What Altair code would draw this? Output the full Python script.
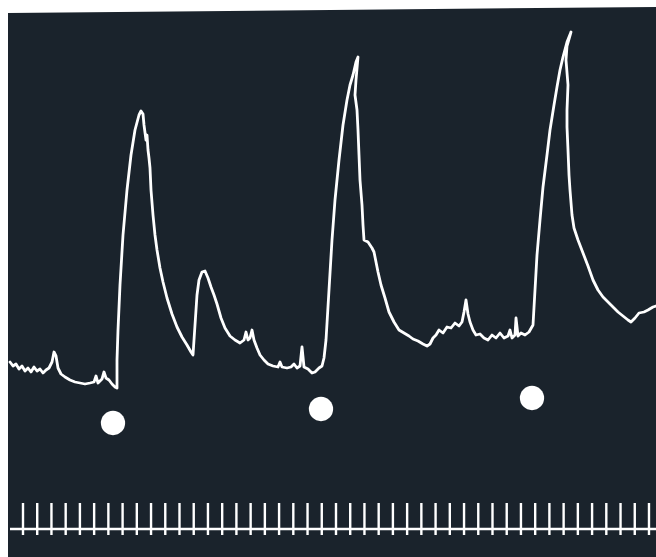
import altair as alt
import pandas as pd

# Recorded trace (time position, screen level; larger level = lower on screen)
trace_t = [10,13,16,19,22,25,28,31,34,37,40,43,46,49,52,54,56,58,61,65,70,75,80,85,90,94,96,98,102,104,106,109,112,115,117,
           117,118,120,123,127,131,135,139,141,143,
           144,146,147,148,149,150,151,153,155,157,160,163,167,172,177,182,187,191,193,
           195,197,199,202,205,208,211,214,217,221,225,230,235,240,244,246,248,250,252,254,257,260,264,268,273,278,280,282,287,291,294,297,300,302,304,308,312,315,319,322,324,
           326,329,332,335,339,343,347,350,353,356,358,
           356,355,357,358,359,360,362,363,364,368,372,374,376,378,381,385,389,394,399,404,409,413,418,423,427,430,433,436,439,443,447,451,455,459,462,464,466,468,470,473,476,480,484,488,492,496,500,504,508,510,512,515,516,518,521,525,529,533,
           535,537,540,543,547,550,554,557,560,563,567,571,
           567,566,568,567,567,568,569,570,572,574,578,583,588,593,598,603,608,613,618,623,628,631,635,639,644,648,653,656]
trace_v = [362,366,364,369,366,371,368,372,367,371,369,373,370,368,362,352,356,368,374,377,380,382,383,384,383,382,376,383,379,372,378,380,384,387,388,
           360,330,285,235,190,155,130,115,111,114,
           125,140,135,150,158,168,190,215,235,250,268,282,298,314,327,337,345,352,355,
           325,295,280,272,271,278,287,295,304,318,328,336,340,343,340,332,340,338,330,340,348,355,360,364,366,367,362,367,368,367,364,368,366,347,367,369,373,372,368,366,358,
           340,290,240,200,160,125,100,85,75,62,57,
           80,95,110,130,155,180,205,225,240,242,248,252,262,272,285,298,312,322,330,333,336,339,341,344,346,344,338,335,330,333,327,328,323,326,322,312,300,314,322,330,335,334,338,340,335,338,333,338,336,330,338,335,318,336,333,335,332,325,
           290,255,220,187,155,130,105,87,70,57,42,32,
           46,60,85,110,127,150,175,190,215,228,240,253,266,280,290,297,302,307,312,316,320,322,318,313,312,310,307,306]

# Stimulus markers
stim_t = [113, 321, 532]
stim_v = [423, 409, 398]

# Time-marker ticks
tick_t = [23 + 14.227 * i for i in range(45)]
tick_top = 503
tick_bottom = 535
time_base = 529

# Screen frame
frame_t = [8, 656]
frame_top = [13, 7]

W, H = 656, 557
xs = alt.Scale(domain=[0, W])
ys = alt.Scale(domain=[H, 0])
X = lambda f: alt.X(f, scale=xs, axis=None)
Y = lambda f: alt.Y(f, scale=ys, axis=None)

screen = alt.Chart(pd.DataFrame({"t": frame_t, "top": frame_top, "bot": [H, H]})).mark_area(
    color="#1a232c", opacity=1
).encode(x=X("t:Q"), y=Y("top:Q"), y2="bot:Q")

trace = alt.Chart(pd.DataFrame({"t": trace_t, "v": trace_v, "o": list(range(len(trace_t)))})).mark_line(
    color="white", strokeWidth=2.8, strokeJoin="round", strokeCap="round"
).encode(x=X("t:Q"), y=Y("v:Q"), order="o:Q")

dots = alt.Chart(pd.DataFrame({"t": stim_t, "v": stim_v})).mark_point(
    filled=True, color="white", opacity=1, size=590, shape="circle"
).encode(x=X("t:Q"), y=Y("v:Q"))

base = alt.Chart(pd.DataFrame({"t": [10, W], "v": [time_base, time_base]})).mark_line(
    color="white", strokeWidth=2.6
).encode(x=X("t:Q"), y=Y("v:Q"))

ticks = alt.Chart(pd.DataFrame({"t": tick_t, "a": [tick_top] * len(tick_t), "b": [tick_bottom] * len(tick_t)})).mark_rule(
    color="white", strokeWidth=2.4
).encode(x=X("t:Q"), y=Y("a:Q"), y2="b:Q")

chart = alt.layer(screen, trace, dots, base, ticks).properties(
    width=W, height=H, padding=0, autosize=alt.AutoSizeParams(type="none"),
    background="white"
).configure_view(stroke=None)

chart.save("out.html", embed_options={"renderer": "svg", "actions": False})
